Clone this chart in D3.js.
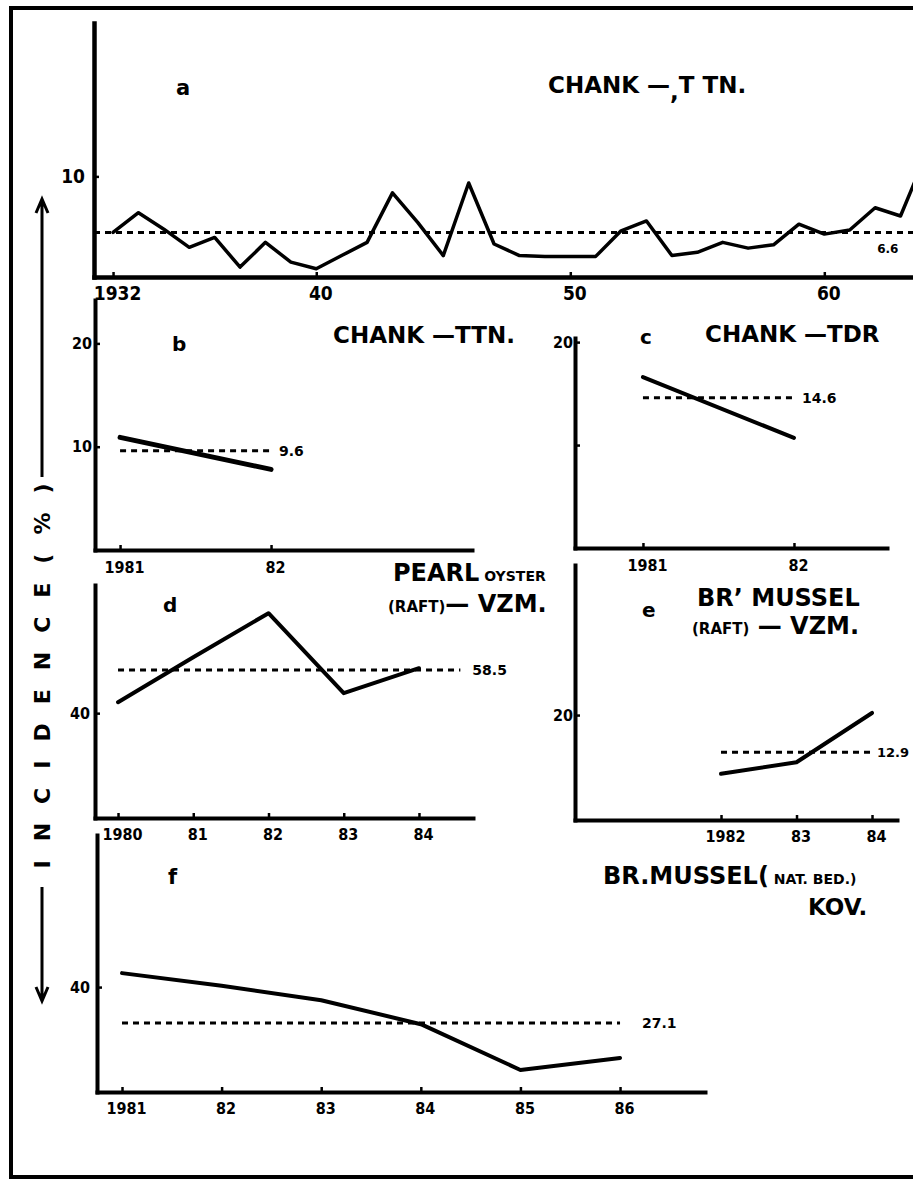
<!DOCTYPE html>
<html>
<head>
<meta charset="utf-8">
<script src="https://cdn.jsdelivr.net/npm/d3@7"></script>
<style>
  body { margin: 0; background: #fff; }
  svg { display: block; }
  text { font-family: "DejaVu Sans", sans-serif; font-weight: bold; fill: #000; }
</style>
</head>
<body>
<div id="chart"></div>
<script>
// a - chank, Tuticorin, 1932-64
const yearsA = [1932, 1933, 1934, 1935, 1936, 1937, 1938, 1939, 1940, 1941, 1942, 1943, 1944, 1945, 1946, 1947, 1948,
  1949, 1950, 1951, 1952, 1953, 1954, 1955, 1956, 1957, 1958, 1959, 1960, 1961, 1962, 1963, 1964]
const incidenceA = [6.6, 7.8, 6.8, 5.7, 6.3, 4.5, 6.0, 4.8, 4.4, 5.2, 6.0, 9.0, 7.2, 5.2, 9.6, 5.9, 5.2,
  5.15, 5.15, 5.15, 6.7, 7.3, 5.2, 5.4, 6.0, 5.65, 5.85, 7.1, 6.5, 6.75, 8.1, 7.6, 11.3]
const meanA = 6.6

// b - chank, Tuticorin
const yearsB = [1981, 1982]
const incidenceB = [10.9, 7.8]
const meanB = 9.6

// c - chank, Tondi
const yearsC = [1981, 1982]
const incidenceC = [16.6, 10.7]
const meanC = 14.6

// d - pearl oyster (raft), Vizhinjam
const yearsD = [1980, 1981, 1982, 1983, 1984]
const incidenceD = [44.7, 64.0, 82.9, 48.6, 59.3]
const meanD = 58.5

// e - brown mussel (raft), Vizhinjam
const yearsE = [1982, 1983, 1984]
const incidenceE = [8.8, 11.0, 20.4]
const meanE = 12.9

// f - brown mussel (natural bed), Kovalam
const yearsF = [1981, 1982, 1983, 1984, 1985, 1986]
const incidenceF = [45.0, 40.5, 35.3, 26.7, 10.3, 14.6]
const meanF = 27.1

const ticksA = [1932, 1940, 1950, 1960]

// layout of each small panel (pixels)
const panels = [
  { years: yearsA, values: incidenceA, mean: meanA, xTicks: ticksA, yTicks: [10],
    xDomain: [1931.25, 1964.2], xRange: [94, 931], yDomain: [3.9, 19.3], yRange: [277, 23],
    meanFrom: 1931.25, meanTo: 1964.2, labelAt: 1962.5, labelDy: 16, labelAnchor: 'middle', labelSize: 12,
    axisW: 4.5, lineW: 3.5, tickFont: 19, xPad: 10, yPad: 9 },
  { years: yearsB, values: incidenceB, mean: meanB, xTicks: yearsB, yTicks: [10, 20],
    xDomain: [1980.834, 1983.331], xRange: [95, 472], yDomain: [0, 24.2], yRange: [550, 300],
    meanFrom: 1981, meanTo: 1982, labelAt: 1982, labelDx: 8, labelAnchor: 'start', labelSize: 14,
    axisW: 4, lineW: 5, tickFont: 16, xPad: 12, yPad: 3 },
  { years: yearsC, values: incidenceC, mean: meanC, xTicks: yearsC, yTicks: [10, 20], yShow: [20],
    xDomain: [1980.55, 1982.616], xRange: [575, 887], yDomain: [0, 20.4], yRange: [548, 338],
    meanFrom: 1981, meanTo: 1982, labelAt: 1982, labelDx: 8, labelAnchor: 'start', labelSize: 14,
    axisW: 4, lineW: 4, tickFont: 16, xPad: 12, yPad: 2 },
  { years: yearsD, values: incidenceD, mean: meanD, xTicks: yearsD, yTicks: [40],
    xDomain: [1979.694, 1984.718], xRange: [95, 473], yDomain: [-5, 95], yRange: [818, 585],
    meanFrom: 1980, meanTo: 1984.55, labelAt: 1984.55, labelDx: 12, labelAnchor: 'start', labelSize: 14,
    axisW: 4, lineW: 4, tickFont: 16, xPad: 11, yPad: 5 },
  { years: yearsE, values: incidenceE, mean: meanE, xTicks: yearsE, yTicks: [20],
    xDomain: [1980.066, 1984.331], xRange: [575, 897], yDomain: [0, 48.6], yRange: [820, 565],
    meanFrom: 1982, meanTo: 1984, labelAt: 1984, labelDx: 5, labelAnchor: 'start', labelSize: 13,
    axisW: 4, lineW: 4, tickFont: 16, xPad: 11, yPad: 2 },
  { years: yearsF, values: incidenceF, mean: meanF, xTicks: yearsF, yTicks: [40],
    xDomain: [1980.749, 1986.853], xRange: [97, 705], yDomain: [2.4, 94.5], yRange: [1092, 835],
    meanFrom: 1981, meanTo: 1986, labelAt: 1986, labelDx: 22, labelAnchor: 'start', labelSize: 14,
    axisW: 4, lineW: 4, tickFont: 16, xPad: 11, yPad: 7 }
]

// panel letters and headings: [x, y baseline, [[text, size], ...]]
const headings = [
  [176, 95, [['a', 21]]],
  [548, 93, [['CHANK —', 23], [',', 23, 7], ['T TN.', 23, -7]]],
  [172, 351, [['b', 20]]],
  [333, 343, [['CHANK —TTN.', 23]]],
  [640, 344, [['c', 20]]],
  [705, 342, [['CHANK —TDR', 23]]],
  [163, 612, [['d', 20]]],
  [393, 581, [['PEARL', 24], [' OYSTER', 14]]],
  [388, 612, [['(RAFT)', 15], ['— VZM.', 24]]],
  [642, 617, [['e', 20]]],
  [697, 606, [['BR\u2019  MUSSEL', 24]]],
  [692, 634, [['(RAFT)', 15], [' — VZM.', 24]]],
  [168, 884, [['f', 21]]],
  [603, 884, [['BR.MUSSEL(', 24], [' NAT. BED.)', 14]]],
  [808, 915, [['KOV.', 23]]]
]

const svg = d3.select('#chart').append('svg')
  .attr('width', 913)
  .attr('height', 1181)

svg.append('rect').attr('width', 913).attr('height', 1181).attr('fill', '#fff')

// outer frame (open on the right)
svg.append('path')
  .attr('d', 'M913,8 H11 V1177 H913')
  .attr('fill', 'none')
  .attr('stroke', '#000')
  .attr('stroke-width', 4)

panels.forEach(p => {
  const x = d3.scaleLinear().domain(p.xDomain).range(p.xRange)
  const y = d3.scaleLinear().domain(p.yDomain).range(p.yRange)
  const g = svg.append('g')

  const xAxis = d3.axisBottom(x)
    .tickValues(p.xTicks)
    .tickSize(-5)
    .tickSizeOuter(0)
    .tickPadding(p.xPad)
    .tickFormat((d, i) => i === 0 ? String(d) : String(d).slice(2))

  const yAxis = d3.axisLeft(y)
    .tickValues(p.yTicks)
    .tickSize(-5)
    .tickSizeOuter(0)
    .tickPadding(p.yPad)
    .tickFormat(d => (p.yShow || p.yTicks).includes(d) ? d : '')

  const gx = g.append('g').attr('transform', `translate(0,${p.yRange[0]})`).call(xAxis)
  const gy = g.append('g').attr('transform', `translate(${p.xRange[0]},0)`).call(yAxis)

  ;[gx, gy].forEach(a => {
    a.attr('font-family', null).attr('font-size', null)
    a.select('.domain').attr('stroke-width', p.axisW).attr('stroke-linecap', 'square')
    a.selectAll('.tick line').attr('stroke-width', 2.5)
    a.selectAll('.tick text')
      .style('font-family', '"DejaVu Sans Condensed", "DejaVu Sans", sans-serif')
      .style('font-size', p.tickFont + 'px')
  })
  gx.selectAll('.tick text').attr('dx', 4)

  // mean level, dashed
  const meanLine = d3.line().x(d => x(d[0])).y(d => y(d[1]))
  g.append('path')
    .attr('d', meanLine([[p.meanFrom, p.mean], [p.meanTo, p.mean]]))
    .attr('fill', 'none')
    .attr('stroke', '#000')
    .attr('stroke-width', 3)
    .attr('stroke-dasharray', '6,5')

  g.append('text')
    .attr('x', x(p.labelAt) + (p.labelDx || 0))
    .attr('y', y(p.mean) + (p.labelDy || 0))
    .attr('dy', '0.36em')
    .attr('text-anchor', p.labelAnchor)
    .style('font-size', p.labelSize + 'px')
    .text(p.mean.toFixed(1))

  // incidence
  const line = d3.line().x(d => x(d[0])).y(d => y(d[1]))
  g.append('path')
    .attr('d', line(d3.zip(p.years, p.values)))
    .attr('fill', 'none')
    .attr('stroke', '#000')
    .attr('stroke-width', p.lineW)
    .attr('stroke-linejoin', 'round')
    .attr('stroke-linecap', 'round')
})

headings.forEach(([hx, hy, parts]) => {
  const t = svg.append('text').attr('x', hx).attr('y', hy)
  parts.forEach(([s, size, dy]) => {
    t.append('tspan')
      .attr('dy', dy || 0)
      .style('font-size', size + 'px')
      .text(s)
  })
})

// common y title with arrows
svg.append('path')
  .attr('d', 'M42,477 V201 M36,213 L42,199 L48,213')
  .attr('fill', 'none')
  .attr('stroke', '#000')
  .attr('stroke-width', 3)

svg.append('path')
  .attr('d', 'M42,887 V999 M36,987 L42,1001 L48,987')
  .attr('fill', 'none')
  .attr('stroke', '#000')
  .attr('stroke-width', 3)

svg.append('text')
  .attr('transform', 'translate(50,676) rotate(-90)')
  .attr('text-anchor', 'middle')
  .attr('textLength', 385)
  .attr('lengthAdjust', 'spacing')
  .style('font-size', '22px')
  .text('INCIDENCE(%)')
</script>
</body>
</html>
